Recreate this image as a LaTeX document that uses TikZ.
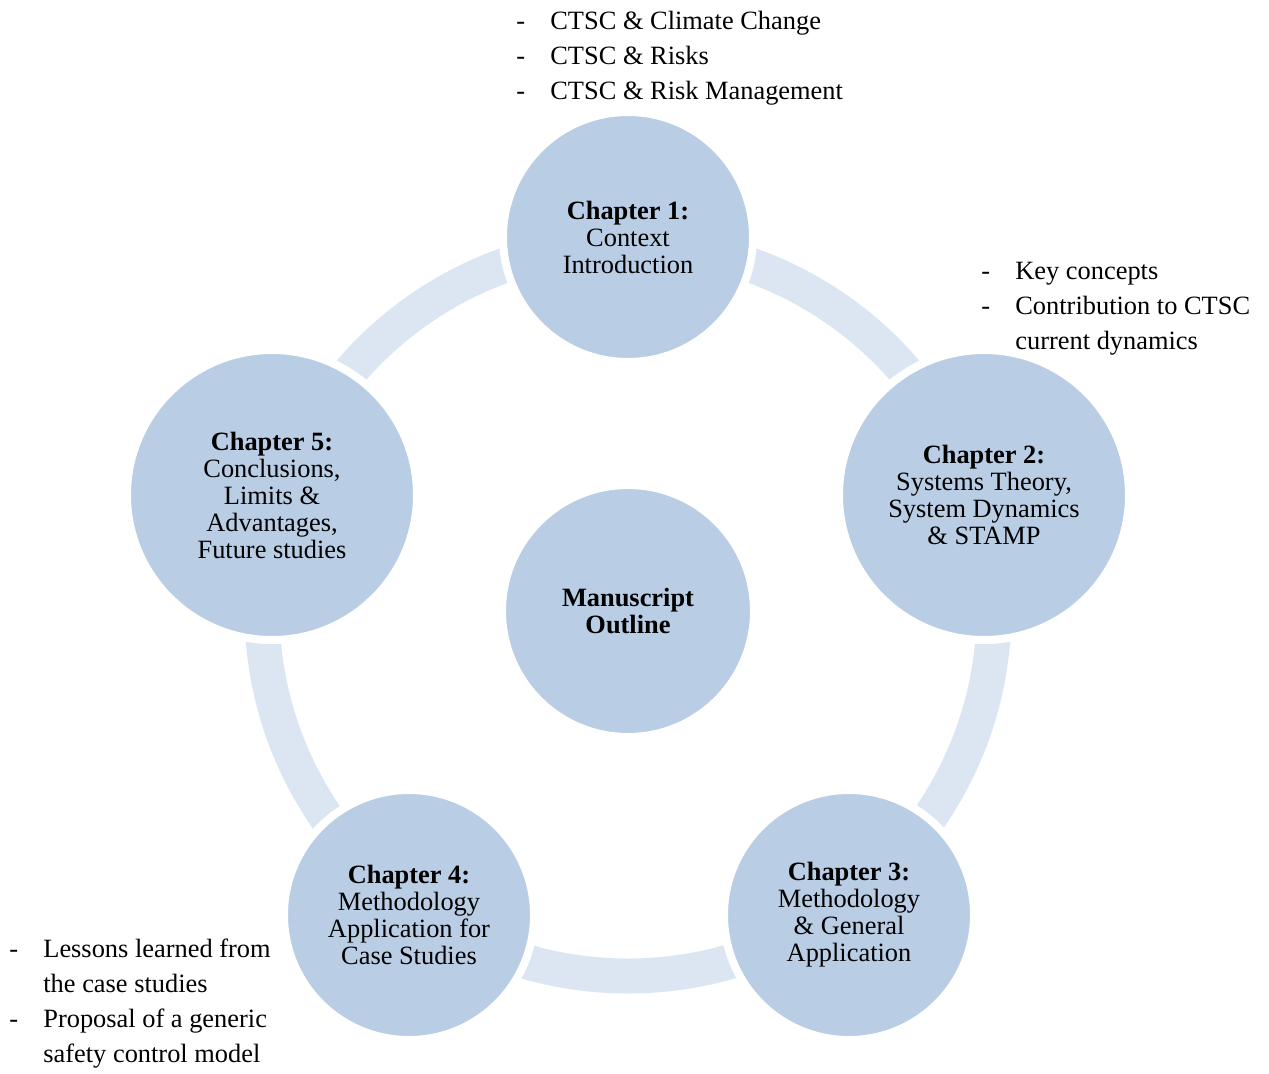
\documentclass[tikz,border=0pt]{standalone}
\usepackage{fontspec}
\setmainfont{Liberation Serif}
\definecolor{chapblue}{HTML}{B9CDE5}
\definecolor{ringblue}{HTML}{DCE6F2}

\begin{document}
\begin{tikzpicture}[x=0.5pt,y=-0.5pt,
  chapter/.style={circle,fill=chapblue,draw=white,line width=4pt,minimum size=125pt,
    inner sep=0pt,align=center,font=\fontsize{13.2}{13.5}\selectfont},
  bigchapter/.style={chapter,minimum size=145pt},
  notes/.style={anchor=base west,inner sep=0pt,font=\fontsize{13.2}{17.5}\selectfont}]
\useasboundingbox (0,0) rectangle (1269,1073);
\coordinate (hub) at (628,610);
% ring behind the chapters
\draw[ringblue,line width=17.5pt] (hub) circle[radius=183pt];
\node[chapter]    (ch1) at (628,237) {\textbf{Chapter 1:}\\Context\\Introduction};
\node[bigchapter] (ch2) at (984,495) {\textbf{Chapter 2:}\\Systems Theory,\\System Dynamics\\\& STAMP};
\node[chapter]    (ch3) at (849,915) {\textbf{Chapter 3:}\\Methodology\\\& General\\Application};
\node[chapter]    (ch4) at (409,915) {\textbf{Chapter 4:}\\Methodology\\Application for\\Case Studies};
\node[bigchapter] (ch5) at (272,495) {\textbf{Chapter 5:}\\Conclusions,\\Limits \&\\Advantages,\\Future studies};
\node[chapter,minimum size=126pt] (outline) at (628,611) {\textbf{Manuscript}\\\textbf{Outline}};
% notes
\node[notes] (notes1) at (516,29) {\begin{tabular}[t]{@{}l@{\hspace{12.6pt}}l@{}}
  -&CTSC \& Climate Change\\ -&CTSC \& Risks\\ -&CTSC \& Risk Management\end{tabular}};
\node[notes] (notes2) at (981,279) {\begin{tabular}[t]{@{}l@{\hspace{12.6pt}}l@{}}
  -&Key concepts\\ -&Contribution to CTSC\\ &current dynamics\end{tabular}};
\node[notes] (notes4) at (9,957) {\begin{tabular}[t]{@{}l@{\hspace{12.6pt}}l@{}}
  -&Lessons learned from\\ &the case studies\\ -&Proposal of a generic\\ &safety control model\end{tabular}};
\end{tikzpicture}
\end{document}
